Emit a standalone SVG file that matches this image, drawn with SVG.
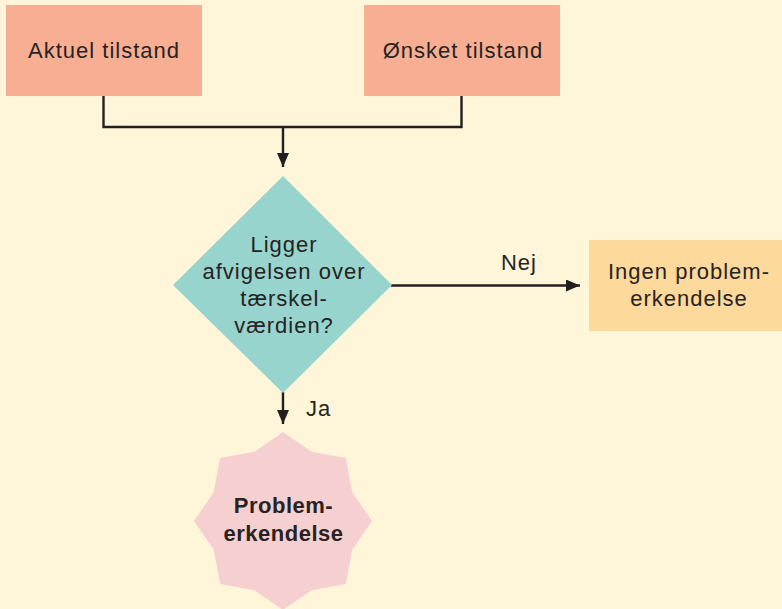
<svg xmlns="http://www.w3.org/2000/svg" width="782" height="609" viewBox="0 0 782 609">
  <defs>
    <marker id="arrow" viewBox="0 0 14 12" refX="14" refY="6" markerWidth="14" markerHeight="12" markerUnits="userSpaceOnUse" orient="auto">
      <path d="M0,0 L14,6 L0,12 Z" fill="#231f20"/>
    </marker>
    <style>
      .label { font-family: "Liberation Sans", Arial, sans-serif; font-size: 22px; fill: #262324; text-anchor: middle; letter-spacing: 1px; }
      .bold { font-weight: bold; letter-spacing: 0.5px; }
      .edge { fill: none; stroke: #231f20; stroke-width: 2.4; }
      .state { fill: #f8ae93; }
    </style>
  </defs>

  <!-- background -->
  <rect x="0" y="0" width="782" height="609" fill="#fff6d9"/>

  <!-- connectors -->
  <g id="connectors">
    <polyline class="edge" points="103.5,96 103.5,127 461.5,127 461.5,96"/>
    <line class="edge" x1="283" y1="127" x2="283" y2="167" marker-end="url(#arrow)"/>
    <line class="edge" x1="391" y1="285.5" x2="580" y2="285.5" marker-end="url(#arrow)"/>
    <line class="edge" x1="283" y1="392" x2="283" y2="424" marker-end="url(#arrow)"/>
    <text class="label" x="519" y="270">Nej</text>
    <text class="label" x="306" y="416" style="text-anchor:start">Ja</text>
  </g>

  <g id="aktuel">
    <rect class="state" x="6" y="5" width="196" height="91"/>
    <text class="label" x="104" y="58">Aktuel tilstand</text>
  </g>

  <g id="oensket">
    <rect class="state" x="364" y="5" width="196" height="91"/>
    <text class="label" x="463" y="58">Ønsket tilstand</text>
  </g>

  <g id="decision">
    <polygon points="283,176 392,285 283,393 173,285" fill="#97d4cd"/>
    <text class="label" x="284" y="252">Ligger</text>
    <text class="label" x="284" y="279">afvigelsen over</text>
    <text class="label" x="284" y="306">tærskel-</text>
    <text class="label" x="284" y="333">værdien?</text>
  </g>

  <g id="ingen">
    <rect x="589" y="240" width="194" height="91" fill="#fdd99b"/>
    <text class="label" x="689" y="279">Ingen problem-</text>
    <text class="label" x="689" y="306">erkendelse</text>
  </g>

  <g id="problem">
    <polygon fill="#f6d0d0" points="283,432 311.7,451.7 345.9,458.1 352.3,492.3 372,521 352.3,549.7 345.9,583.9 311.7,590.3 283,610 254.3,590.3 220.1,583.9 213.7,549.7 194,521 213.7,492.3 220.1,458.1 254.3,451.7"/>
    <text class="label bold" x="283.5" y="513">Problem-</text>
    <text class="label bold" x="283.5" y="541">erkendelse</text>
  </g>
</svg>
